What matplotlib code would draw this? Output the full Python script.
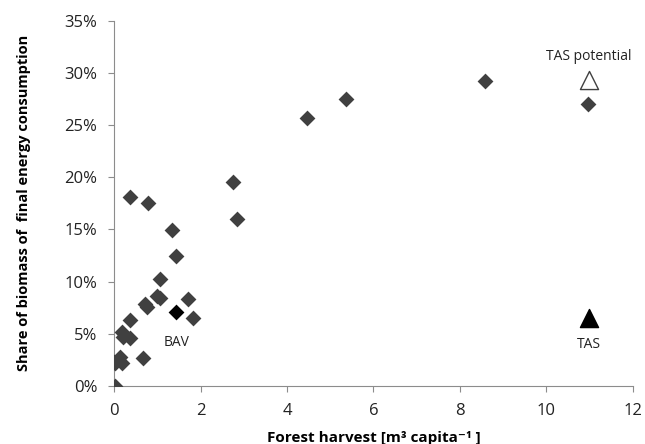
import numpy as np
import matplotlib
matplotlib.use('Agg')
import matplotlib.pyplot as plt
from matplotlib.ticker import PercentFormatter

plt.rcParams['font.family'] = ['Open Sans', 'DejaVu Sans']

# countries (grey diamonds)
harvest = [0.02, 0.02, 0.0, 0.13, 0.17, 0.17, 0.21, 0.36, 0.36, 0.67, 0.71, 0.75,
           0.36, 0.79, 1.33, 1.44, 1.06, 0.98, 1.07, 1.71, 1.83, 2.75, 2.84,
           4.46, 5.37, 8.59, 10.96]
share = [0.0, 2.15, 2.3, 2.8, 2.15, 5.2, 4.7, 4.55, 6.3, 2.7, 7.85, 7.6,
         18.1, 17.5, 14.9, 12.45, 10.2, 8.6, 8.45, 8.3, 6.5, 19.5, 16.0,
         25.7, 27.5, 29.25, 27.0]

# highlighted regions
bav_x, bav_y = 1.44, 7.05
tas_x, tas_y = 10.98, 6.5
tas_pot_x, tas_pot_y = 10.98, 29.3

fig = plt.figure(figsize=(6.45, 4.44), dpi=100)
ax = fig.add_axes([0.177, 0.131, 0.804, 0.822])

ax.scatter(harvest, share, marker='D', s=65, color='#404040', zorder=3, linewidths=0)
ax.scatter([bav_x], [bav_y], marker='D', s=65, color='black', zorder=4, linewidths=0)
ax.scatter([tas_x], [tas_y], marker='^', s=170, color='black', zorder=4)
ax.scatter([tas_pot_x], [tas_pot_y], marker='^', s=170, facecolor='white',
           edgecolor='#404040', linewidths=1, zorder=4)

ax.annotate('BAV', (bav_x, bav_y), xytext=(0, -22), textcoords='offset points',
            ha='center', va='center', fontsize=10, color='#222222')
ax.annotate('TAS', (tas_x, tas_y), xytext=(0, -19), textcoords='offset points',
            ha='center', va='center', fontsize=10, color='#222222')
ax.annotate('TAS potential', (tas_pot_x, tas_pot_y), xytext=(0, 17), textcoords='offset points',
            ha='center', va='center', fontsize=10, color='#222222')

ax.set_xlim(0, 12)
ax.set_ylim(0, 35)
ax.set_xticks(np.arange(0, 13, 2))
ax.set_yticks(np.arange(0, 36, 5))
ax.yaxis.set_major_formatter(PercentFormatter(decimals=0))

for side in ['top', 'right']:
    ax.spines[side].set_visible(False)
for side in ['left', 'bottom']:
    ax.spines[side].set_color('#8c8c8c')
ax.tick_params(axis='both', colors='#8c8c8c', labelcolor='#222222', labelsize=12, length=4)
ax.tick_params(axis='x', pad=8)
ax.tick_params(axis='y', pad=8)

ax.set_xlabel('Forest harvest [m³ capita⁻¹ ]', fontsize=11, fontweight='bold', labelpad=9)
ax.set_ylabel('Share of biomass of  final energy consumption', fontsize=10.5,
              fontweight='bold', labelpad=24)

fig.savefig('out.png', dpi=100)
